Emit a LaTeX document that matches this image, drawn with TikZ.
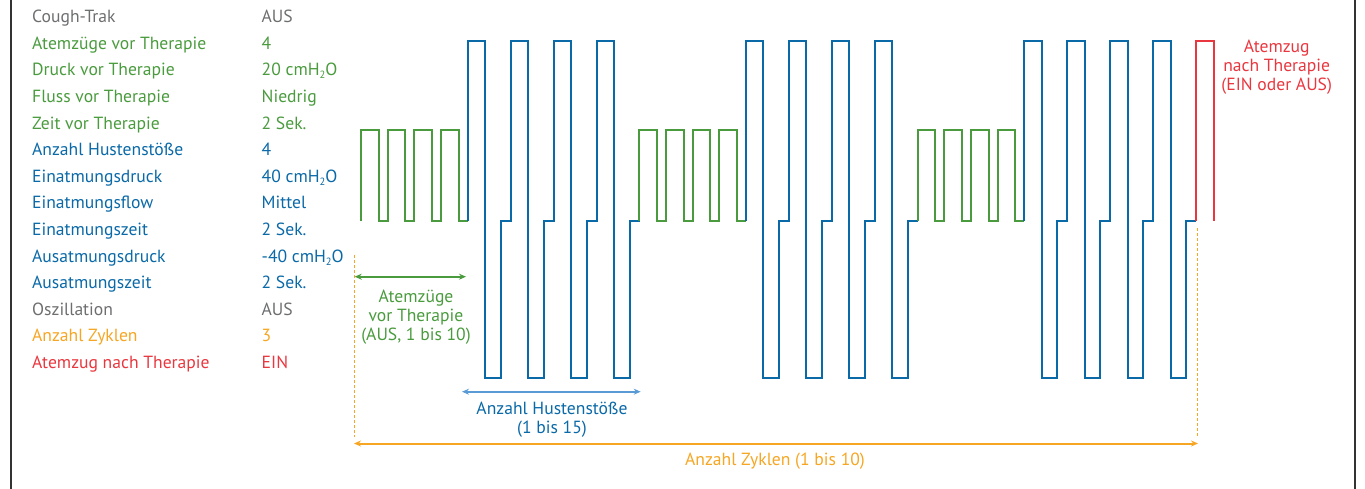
\documentclass[tikz,border=0pt]{standalone}
\usepackage{fontspec}
\setmainfont{PT Sans}
\usetikzlibrary{arrows.meta}
\definecolor{txtgray}{HTML}{6D6E70}
\definecolor{pgreen}{HTML}{4A9B3E}
\definecolor{pblue}{HTML}{0A69A7}
\definecolor{lblue}{HTML}{5B9BD5}
\definecolor{porange}{HTML}{F6A623}
\definecolor{pred}{HTML}{E9373F}
\definecolor{border}{HTML}{333333}
\newcommand\lowtwo{\raisebox{-0.35ex}{\fontsize{10.5}{10.5}\selectfont 2}}
\tikzset{
  txt/.style={inner sep=0pt, anchor=base west, font=\fontsize{17.6}{19}\selectfont},
  lbl/.style={inner sep=0pt, anchor=center, align=center, font=\fontsize{17.6}{19}\selectfont},
  wave/.style={line width=2pt, line join=miter},
  dim/.style={line width=1.6pt, {Stealth[length=7pt,width=6pt]}-{Stealth[length=7pt,width=6pt]}},
  guide/.style={porange, line width=0.9pt, dash pattern=on 3pt off 2pt},
}
\begin{document}
\begin{tikzpicture}[x=1pt,y=-1pt]
\useasboundingbox (0,0) rectangle (1365,489);
% borders
\draw[border, line width=1.6pt] (11,0) -- (11,489);
\draw[border, line width=1.6pt] (1355,0) -- (1355,489);
% left parameter list
\foreach \lab/\val/\col [count=\i from 0] in {
  Cough-Trak/AUS/txtgray,
  Atemzüge vor Therapie/4/pgreen,
  Druck vor Therapie/20 cmH\lowtwo O/pgreen,
  Fluss vor Therapie/Niedrig/pgreen,
  Zeit vor Therapie/2 Sek./pgreen,
  Anzahl Hustenstöße/4/pblue,
  Einatmungsdruck/40 cmH\lowtwo O/pblue,
  Einatmungsflow/Mittel/pblue,
  Einatmungszeit/2 Sek./pblue,
  Ausatmungsdruck/-40 cmH\lowtwo O/pblue,
  Ausatmungszeit/2 Sek./pblue,
  Oszillation/AUS/txtgray,
  Anzahl Zyklen/3/porange,
  Atemzug nach Therapie/EIN/pred}{
  \pgfmathsetmacro\yb{22.7+26.6*\i}
  \node[txt, text=\col] (lab\i) at (32,\yb) {\lab};
  \node[txt, text=\col] (val\i) at (261.5,\yb) {\val};
}
% waveform
\foreach \c in {0,1,2}{
  \pgfmathsetmacro\xo{361+278.35*\c}
  \pgfmathsetmacro\xb{\xo+106.5}
  \draw[wave, pgreen] (\xo,221)
    \foreach \i in {1,...,4}{ -- ++(0,-91) -- ++(17.7,0) -- ++(0,91) -- ++(8.925,0) };
  \draw[wave, pblue] (\xb,221)
    \foreach \j in {1,...,4}{ -- ++(0,-180.3) -- ++(17.5,0) -- ++(0,337.6) -- ++(15.7,0) -- ++(0,-157.3) -- ++(9.8,0) };
}
\draw[wave, pred] (1196.2,221) -- (1196.2,40.7) -- (1213.5,40.7) -- (1213.5,221);
% guides
\coordinate (gl1) at (354.7,255);
\coordinate (gl2) at (354.7,437);
\coordinate (gr1) at (1197,228);
\coordinate (gr2) at (1197,437);
\draw[guide] (gl1) -- (gl2);
\draw[guide] (gr1) -- (gr2);
% dimension arrows
\coordinate (ga) at (354.7,276.7);
\coordinate (gb) at (466,276.7);
\draw[dim, pgreen, line width=1.6pt] (ga) -- (gb);
\coordinate (ba) at (462,391.7);
\coordinate (bb) at (640.7,391.7);
\draw[dim, lblue, line width=1.6pt] (ba) -- (bb);
\coordinate (oa) at (354,443.5);
\coordinate (ob) at (1198,443.5);
\draw[dim, porange, line width=2pt] (oa) -- (ob);
% labels
\node[lbl, text=pgreen] (tg) at (416,317) {Atemzüge\\vor Therapie\\(AUS, 1 bis 10)};
\node[lbl, text=pblue] (tb) at (552,419.7) {Anzahl Hustenstöße\\(1 bis 15)};
\node[lbl, text=porange] (to) at (775,461) {Anzahl Zyklen (1 bis 10)};
\node[lbl, text=pred] (tr) at (1276.7,67.5) {Atemzug\\nach Therapie\\(EIN oder AUS)};
\end{tikzpicture}
\end{document}
